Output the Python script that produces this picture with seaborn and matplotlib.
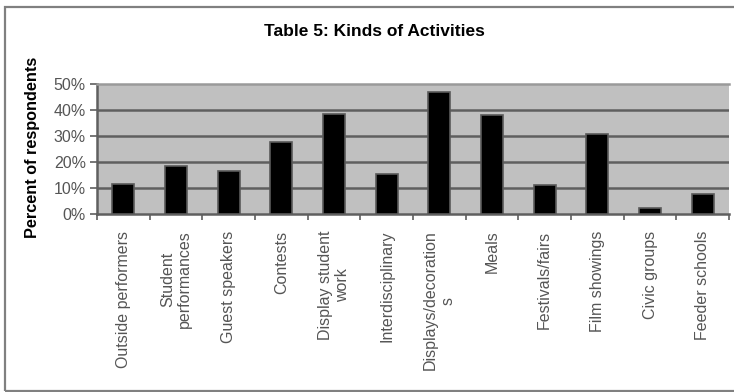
import matplotlib
matplotlib.use("Agg")
import matplotlib.pyplot as plt
import matplotlib.patches as mpatches
from matplotlib.ticker import FixedLocator, PercentFormatter
import numpy as np
import pandas as pd
import seaborn as sns

# Survey results: share of respondents reporting each kind of activity
activities = [
    "Outside performers",
    "Student\nperformances",
    "Guest speakers",
    "Contests",
    "Display student\nwork",
    "Interdisciplinary",
    "Displays/decoration\ns",
    "Meals",
    "Festivals/fairs",
    "Film showings",
    "Civic groups",
    "Feeder schools",
]
percent_respondents = [11.6, 18.4, 16.5, 27.8, 38.6, 15.2, 46.9, 38.0, 11.1, 30.8, 2.2, 7.6]
y_ticks = [0, 10, 20, 30, 40, 50]

df = pd.DataFrame({"activity": activities, "pct": np.array(percent_respondents) / 100})

sns.set_style("white")
plt.rcParams["font.family"] = ["Liberation Sans", "DejaVu Sans"]

fig = plt.figure(figsize=(7.34, 3.92), dpi=100)
ax = fig.add_axes([97 / 734, 1 - 214 / 392, (729 - 97) / 734, (214 - 84) / 392])

# outer chart frame
frame = mpatches.Rectangle((5 / 734, 1 / 392), 740 / 734, (384) / 392,
                           transform=fig.transFigure, fill=False,
                           edgecolor="#808080", linewidth=1.6, zorder=0)
fig.patches.append(frame)

ax.set_facecolor("#C0C0C0")
sns.barplot(data=df, x="activity", y="pct", color="black", width=0.42,
            edgecolor="#5a5a5a", linewidth=1.2, saturation=1, ax=ax, zorder=3)

ax.set_ylim(0, 0.5)
ax.set_xlim(-0.5, len(activities) - 0.5)
ax.yaxis.set_major_locator(FixedLocator([t / 100 for t in y_ticks]))
ax.yaxis.set_major_formatter(PercentFormatter(1.0, decimals=0))

# horizontal gridlines
for t in y_ticks[1:-1]:
    ax.axhline(t / 100, color="#5f5f5f", linewidth=1.8, zorder=1)

for side in ["left", "bottom"]:
    ax.spines[side].set_color("#5f5f5f")
    ax.spines[side].set_linewidth(1.8)
ax.spines["top"].set_color("#9a9a9a")
ax.spines["top"].set_linewidth(1.8)
ax.spines["right"].set_visible(False)

ax.tick_params(axis="y", which="major", left=True, length=5, width=1.2,
               color="#5f5f5f", labelsize=11.5, labelcolor="#555555", pad=3)
# category separators as minor ticks
ax.xaxis.set_minor_locator(FixedLocator(np.arange(-0.5, len(activities), 1.0)))
ax.tick_params(axis="x", which="minor", bottom=True, length=4, width=1.2, color="#5f5f5f")
ax.tick_params(axis="x", which="major", bottom=False, length=0, pad=12,
               labelsize=11.5, labelcolor="#555555")
for lbl in ax.get_xticklabels():
    lbl.set_rotation(90)
    lbl.set_verticalalignment("top")
    lbl.set_horizontalalignment("center")
    lbl.set_multialignment("center")

ax.set_xlabel("")
ax.set_ylabel("")
fig.text(33 / 734, 1 - 147.5 / 392, "Percent of respondents", rotation=90,
         ha="center", va="center", fontsize=11.7, fontweight="bold", color="black")
fig.text(374 / 734, 1 - 32 / 392, "Table 5: Kinds of Activities",
         ha="center", va="center", fontsize=12.5, fontweight="bold", color="black")

fig.savefig("out.png", dpi=100)
